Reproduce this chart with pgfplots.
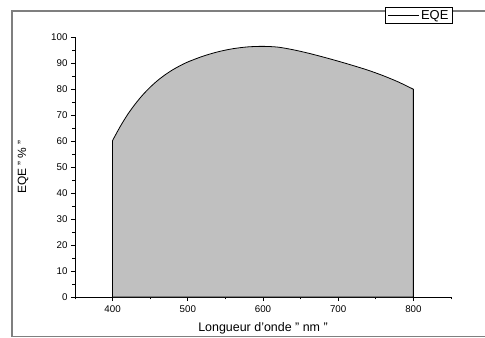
\documentclass[border=0pt]{standalone}
\usepackage{pgfplots}
\pgfplotsset{compat=1.18}
\usepackage{fontspec}
\setmainfont{Liberation Sans}
\definecolor{fillgray}{HTML}{C0C0C0}
\definecolor{framegray}{HTML}{7F7F7F}
\begin{document}
\begin{tikzpicture}
\path[use as bounding box] (0,0) rectangle (485bp,338bp);
\draw[framegray, line width=1.2bp] (487bp,327bp) -- (12bp,327bp) -- (12bp,1.2bp) -- (487bp,1.2bp);
\begin{axis}[
  at={(75bp,41bp)}, anchor=south west,
  scale only axis, width=376bp, height=260bp,
  xmin=350, xmax=850, ymin=0, ymax=100,
  axis x line=bottom, axis y line=left,
  axis line style={-, line width=0.8bp},
  xtick={400,500,...,800}, minor xtick={350,450,...,850},
  ytick={0,10,...,100}, minor ytick={5,15,...,95},
  tick align=outside,
  major tick length=4bp, minor tick length=2.5bp,
  tick style={black, line width=0.7bp},
  /pgf/number format/assume math mode=true,
  ticklabel style={font=\fontsize{9.8}{11}\selectfont},
  xticklabel style={yshift=-1bp},
  xlabel={Longueur d'onde " nm "},
  ylabel={EQE " \% "},
  xlabel style={at={(axis description cs:0.5,-0.119)}, anchor=center, font=\fontsize{12.5}{14}\selectfont},
  ylabel style={at={(axis description cs:-0.138,0.5)}, anchor=center, font=\fontsize{12}{14}\selectfont},
  legend style={at={(axis description cs:0.8245,1.114)}, anchor=north west, draw=black, fill=white,
    font=\fontsize{13}{14}\selectfont, inner xsep=2bp, inner ysep=0.5bp, row sep=0pt, line width=0.8bp},
  legend cell align=left,
  legend image code/.code={\draw[black, line width=0.7bp] (0bp,0bp) -- (31bp,0bp);},
  clip=false,
]
\addplot[fill=fillgray, draw=black, line width=0.8bp, smooth, forget plot] coordinates {
(400,60.2) (410,65.5) (420,70.2) (430,74.2) (440,77.7) (450,80.7) (460,83.3)
(470,85.5) (480,87.4) (490,89.0) (500,90.4) (520,92.6) (540,94.3) (560,95.5)
(580,96.2) (600,96.4) (620,96.1) (640,95.1) (660,93.8) (680,92.3) (700,90.7)
(720,89.0) (740,87.2) (760,85.1) (780,82.7) (800,79.9)
} \closedcycle;
\addlegendimage{black}
\addlegendentry{EQE}
\end{axis}
\end{tikzpicture}
\end{document}
